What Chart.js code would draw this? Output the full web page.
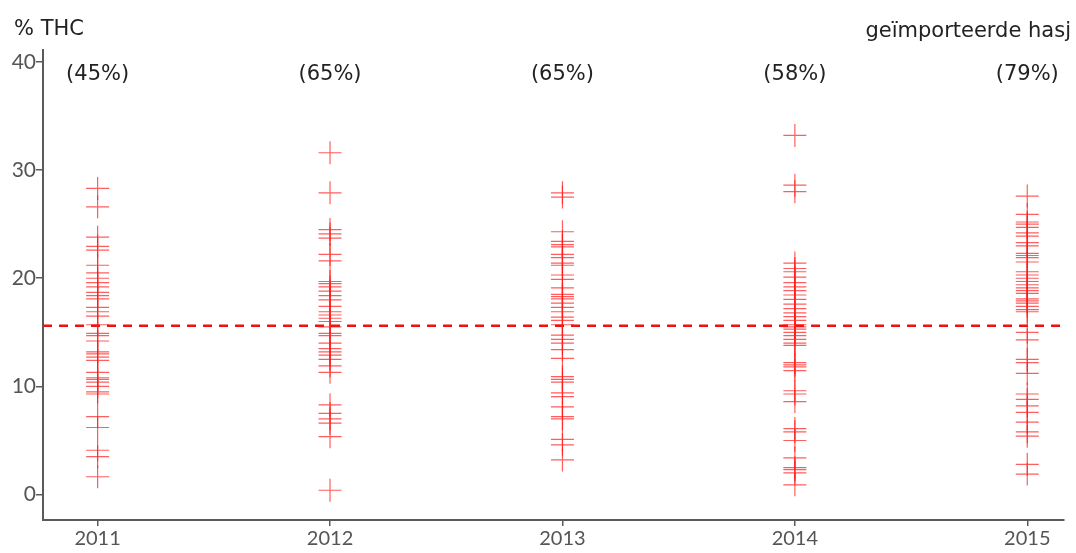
<!DOCTYPE html>
<html>
<head>
<meta charset="utf-8">
<script src="https://cdn.jsdelivr.net/npm/chart.js@4/dist/chart.umd.min.js"></script>
<style>
  html, body { margin: 0; padding: 0; background: #ffffff; }
  #wrap { width: 1076px; height: 553px; position: relative; }
</style>
</head>
<body>
<div id="wrap"><canvas id="c" width="1076" height="553"></canvas></div>
<script>
// Survey years and the share of imported hashish per year
const years = [2011, 2012, 2013, 2014, 2015];
const shareLabels = ['(45%)', '(65%)', '(65%)', '(58%)', '(79%)'];

// THC percentage of each sample, per year
const thc2011 = [28.3, 26.6, 23.8, 22.95, 22.6, 21.2, 20.5, 20.0, 19.6, 19.2, 18.7, 18.4, 18.1, 17.3, 16.9, 16.5, 15.7,
  14.9, 14.7, 14.2, 13.2, 13.0, 12.7, 12.4, 11.3, 10.8, 10.65, 10.4, 10.0, 9.5, 9.3, 7.2, 6.2, 4.1, 3.5, 1.65];
const thc2012 = [31.6, 27.9, 24.5, 24.1, 23.7, 22.2, 21.6, 19.7, 19.5, 19.2, 18.8, 18.4, 18.0, 17.4, 16.9, 16.6, 16.3, 16.0, 15.5,
  14.9, 14.7, 14.0, 13.5, 13.2, 12.9, 12.5, 11.9, 11.3, 8.3, 7.5, 7.0, 6.6, 5.35, 0.4];
const thc2013 = [27.9, 27.5, 24.3, 23.4, 23.1, 22.9, 22.2, 21.9, 21.4, 21.2, 20.3, 19.9, 19.1, 18.5, 18.3, 18.1, 17.7, 17.3, 16.9, 16.4, 16.1, 15.7,
  14.75, 14.35, 14.0, 13.4, 12.6, 10.9, 10.65, 10.4, 9.4, 9.05, 8.1, 7.2, 7.0, 5.1, 4.6, 3.2];
const thc2014 = [33.2, 28.6, 28.0, 21.4, 20.9, 20.6, 20.1, 19.6, 19.2, 18.85, 18.45, 18.05, 17.6, 17.2, 16.8, 16.45, 16.1, 15.7,
  15.5, 15.3, 15.0, 14.7, 14.35, 14.0, 13.8, 12.2, 12.0, 11.8, 11.45, 9.6, 9.3, 8.6, 6.1, 5.8, 5.0, 3.4, 2.5, 2.3, 2.0, 0.9];
const thc2015 = [27.6, 25.9, 25.2, 25.0, 24.7, 24.2, 23.9, 23.3, 23.0, 22.3, 22.1, 21.9, 21.5, 20.6, 20.3, 20.0, 19.7, 19.4, 19.1, 18.85,
  18.6, 18.1, 17.9, 17.7, 17.4, 17.1, 16.9, 15.0, 14.3, 12.5, 12.2, 11.2, 9.3, 8.8, 8.2, 7.6, 6.7, 5.8, 5.4, 2.8, 1.9];
const thcByYear = [thc2011, thc2012, thc2013, thc2014, thc2015];

// Overall average THC level (dashed reference line)
const averageThc = 15.6;
const yTicks = [0, 10, 20, 30, 40];

const X_MIN = 2010.765, X_MAX = 2015.155;
const Y_MIN = -2.35, Y_MAX = 41.1;

const TICK_FONT = "'Lato', 'Open Sans', sans-serif";
const HEAD_FONT = "'DejaVu Sans', 'Lato', sans-serif";
const RED = 'rgba(255, 25, 25, 0.7)';
const AXIS = '#5a5a5a';

const samplePoints = [];
thcByYear.forEach((vals, i) => vals.forEach(v => samplePoints.push({ x: years[i], y: v })));

const labelsPlugin = {
  id: 'headerLabels',
  afterDraw(chart) {
    const ctx = chart.ctx;
    const xs = chart.scales.x;
    ctx.save();
    ctx.fillStyle = '#222';
    ctx.font = '21px ' + HEAD_FONT;
    ctx.textBaseline = 'middle';
    ctx.textAlign = 'left';
    ctx.fillText('% THC', 14, 30);
    ctx.textAlign = 'right';
    ctx.fillText('geïmporteerde hasj', 1071, 32);
    ctx.textAlign = 'center';
    years.forEach((yr, i) => {
      ctx.fillText(shareLabels[i], xs.getPixelForValue(yr), 75);
    });
    ctx.restore();
  }
};

new Chart(document.getElementById('c'), {
  type: 'scatter',
  data: {
    datasets: [
      {
        label: 'THC',
        data: samplePoints,
        pointStyle: 'cross',
        pointRadius: 11.5,
        pointHoverRadius: 11.5,
        pointBorderWidth: 1.2,
        pointBorderColor: RED,
        pointBackgroundColor: RED,
        borderColor: RED,
        backgroundColor: RED,
        showLine: false
      },
      {
        label: 'gemiddelde',
        type: 'line',
        data: [{ x: X_MIN, y: averageThc }, { x: X_MAX, y: averageThc }],
        borderColor: '#ee1111',
        borderWidth: 2.5,
        borderDash: [9, 7],
        pointRadius: 0,
        fill: false
      }
    ]
  },
  options: {
    responsive: false,
    animation: false,
    events: [],
    layout: { padding: { top: 50, right: 6, left: 0, bottom: 0 } },
    plugins: { legend: { display: false }, tooltip: { enabled: false } },
    scales: {
      x: {
        type: 'linear',
        min: X_MIN,
        max: X_MAX,
        afterBuildTicks: s => { s.ticks = years.map(v => ({ value: v })); },
        afterFit: s => { s.height = 33; },
        grid: { display: true, drawOnChartArea: false, drawTicks: true, tickLength: 6, color: AXIS, lineWidth: 1.5 },
        border: { display: true, color: AXIS, width: 2 },
        ticks: {
          color: '#555',
          font: { family: TICK_FONT, size: 20 },
          padding: 1,
          maxRotation: 0,
          autoSkip: false,
          callback: v => String(v)
        }
      },
      y: {
        min: Y_MIN,
        max: Y_MAX,
        afterBuildTicks: s => { s.ticks = yTicks.map(v => ({ value: v })); },
        afterFit: s => { s.width = 43; },
        grid: { display: true, drawOnChartArea: false, drawTicks: true, tickLength: 7, color: AXIS, lineWidth: 1.5 },
        border: { display: true, color: AXIS, width: 2 },
        ticks: {
          color: '#555',
          font: { family: TICK_FONT, size: 21 },
          padding: 0,
          callback: v => String(v)
        }
      }
    }
  },
  plugins: [labelsPlugin]
});
</script>
</body>
</html>
